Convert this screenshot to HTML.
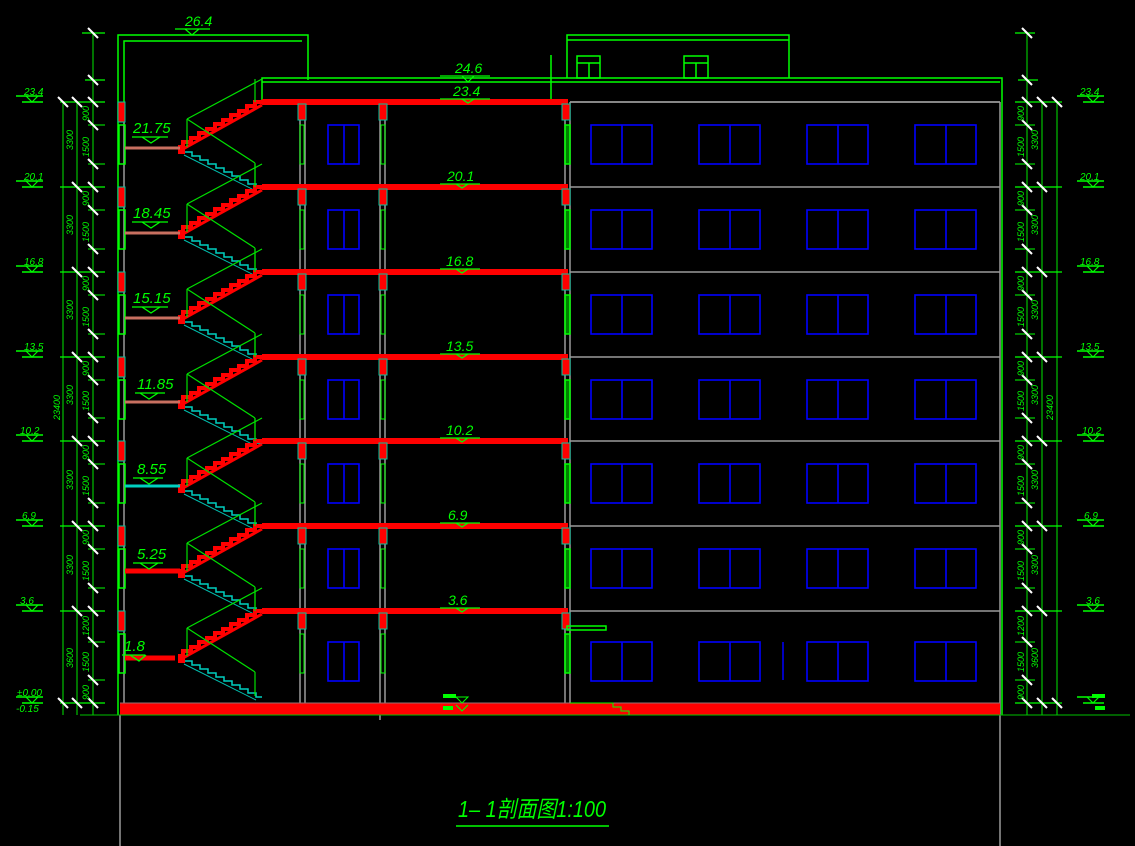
<!DOCTYPE html>
<html><head><meta charset="utf-8"><style>
html,body{margin:0;padding:0;background:#000;}
svg{display:block;}
text{font-family:"Liberation Sans","Noto Sans CJK SC",sans-serif;font-style:italic;fill:#00ff00;}
</style></head><body>
<svg width="1135" height="846" viewBox="0 0 1135 846" xmlns="http://www.w3.org/2000/svg">
<rect width="1135" height="846" fill="#000"/>
<defs>
<g id="flr">
  <line x1="570" y1="0" x2="1000" y2="0" stroke="#9a9a9a" stroke-width="1.5"/>
  <rect x="262" y="-3" width="306" height="6" fill="#ff0000"/>
  <rect x="298" y="2" width="8" height="16" fill="#ff0000" stroke="#00c8a0" stroke-width="1"/>
  <rect x="379" y="2" width="8" height="16" fill="#ff0000" stroke="#00c8a0" stroke-width="1"/>
  <rect x="562" y="2" width="8" height="16" fill="#ff0000" stroke="#00c8a0" stroke-width="1"/>
  <rect x="118" y="0" width="7" height="20" fill="#ff0000" stroke="#00c8a0" stroke-width="1"/>
  <rect x="119" y="23" width="6" height="39" fill="none" stroke="#00ff00" stroke-width="1.5"/>
  <rect x="565" y="23" width="5" height="39" fill="#00ff00" fill-opacity=".5" stroke="#00ff00" stroke-width="1.5"/>
  <rect x="300" y="23" width="4" height="39" fill="none" stroke="#00ff00" stroke-width="1"/>
  <rect x="381" y="23" width="4" height="39" fill="none" stroke="#00ff00" stroke-width="1"/>
</g>
<g id="win" fill="none" stroke="#0000ff" stroke-width="1.6">
  <rect x="328" y="0" width="31" height="39"/><line x1="344" y1="0" x2="344" y2="39"/>
  <rect x="591" y="0" width="61" height="39"/><line x1="622" y1="0" x2="622" y2="39"/>
  <rect x="699" y="0" width="61" height="39"/><line x1="730" y1="0" x2="730" y2="39"/>
  <rect x="807" y="0" width="61" height="39"/><line x1="838" y1="0" x2="838" y2="39"/>
  <rect x="915" y="0" width="61" height="39"/><line x1="946" y1="0" x2="946" y2="39"/>
</g>
<g id="st">
  <path d="M183,44 L183,40 L191,40 L191,36 L199,36 L199,31 L207,31 L207,27 L215,27 L215,22 L223,22 L223,18 L231,18 L231,13 L239,13 L239,9 L247,9 L247,4 L255,4 L255,0 L262,0" fill="none" stroke="#ff0000" stroke-width="4"/>
  <line x1="183" y1="47" x2="262" y2="3" stroke="#ff0000" stroke-width="3"/>
  <path d="M184,50 L192,50 L192,54 L200,54 L200,58 L208,58 L208,62 L216,62 L216,66 L224,66 L224,70 L232,70 L232,74 L240,74 L240,78 L248,78 L248,82 L256,82 L256,86 L262,86" fill="none" stroke="#00d0c0" stroke-width="1.5"/>
  <line x1="184" y1="53" x2="256" y2="89" stroke="#00c0b0" stroke-width="1"/>
  <rect x="178" y="43" width="7" height="9" fill="#ff0000"/>
  <g stroke="#00e000" stroke-width="1.2" fill="none">
    <line x1="187" y1="17" x2="187" y2="45"/>
    <line x1="187" y1="17" x2="262" y2="-23"/>
    <line x1="187" y1="17" x2="255" y2="61"/>
    <line x1="255" y1="61" x2="255" y2="85"/>
    <line x1="255" y1="-23" x2="255" y2="0"/>
  </g>
</g>
<g id="tk"><line x1="-5" y1="-5" x2="5" y2="5" stroke="#fff" stroke-width="2"/></g>
<g id="em"><line x1="0" y1="-6" x2="27" y2="-6" stroke="#00ff00" stroke-width="1.5"/><line x1="6" y1="0" x2="27" y2="0" stroke="#00ff00" stroke-width="1.5"/><path d="M10,-6 L16,0 L22,-6" fill="none" stroke="#00ff00" stroke-width="1.2"/></g>
</defs>

<g stroke="#00ff00" stroke-width="1.5" fill="none">
  <polyline points="118,715 118,35 308,35 308,80"/>
  <polyline points="124,102 124,41 302,41"/>
  <polyline points="262,102 262,78 1002,78 1002,715"/>
  <line x1="262" y1="82" x2="1000" y2="82"/>
  <polyline points="567,78 567,35 789,35 789,78"/>
  <line x1="567" y1="40" x2="789" y2="40"/>
  <rect x="577" y="56" width="23" height="22"/><line x1="577" y1="63" x2="600" y2="63"/><line x1="589" y1="63" x2="589" y2="78"/>
  <rect x="684" y="56" width="24" height="22"/><line x1="684" y1="63" x2="708" y2="63"/><line x1="696" y1="63" x2="696" y2="78"/>
  <line x1="551" y1="55" x2="551" y2="102"/>
</g>
<g stroke="#9a9a9a" stroke-width="1.5" fill="none">
  <line x1="570" y1="102" x2="1000" y2="102"/>
  <line x1="1000" y1="102" x2="1000" y2="846"/>
  <line x1="120" y1="715" x2="120" y2="846"/>
  <line x1="124" y1="102" x2="124" y2="715"/>
  <line x1="565" y1="102" x2="565" y2="715"/><line x1="570" y1="102" x2="570" y2="715"/>
  <line x1="300" y1="102" x2="300" y2="715"/><line x1="305" y1="102" x2="305" y2="715"/>
  <line x1="380" y1="102" x2="380" y2="720"/><line x1="385" y1="102" x2="385" y2="715"/>
</g>

<use href="#flr" y="102"/><use href="#flr" y="187"/><use href="#flr" y="272"/><use href="#flr" y="357"/>
<use href="#flr" y="441"/><use href="#flr" y="526"/><use href="#flr" y="611"/>
<use href="#win" y="125"/><use href="#win" y="210"/><use href="#win" y="295"/><use href="#win" y="380"/>
<use href="#win" y="464"/><use href="#win" y="549"/><use href="#win" y="642"/>
<rect x="765" y="640" width="40" height="45" fill="#000"/><line x1="783" y1="642" x2="783" y2="680" stroke="#0000ff" stroke-width="1.5"/>
<rect x="567" y="626" width="39" height="4" fill="none" stroke="#00ff00" stroke-width="1.5"/>

<use href="#st" y="102"/><use href="#st" y="187"/><use href="#st" y="272"/><use href="#st" y="357"/>
<use href="#st" y="441"/><use href="#st" y="526"/><use href="#st" y="611"/>
<g stroke="#c87060" stroke-width="3">
  <line x1="125" y1="148" x2="180" y2="148"/><line x1="125" y1="233" x2="180" y2="233"/>
  <line x1="125" y1="318" x2="180" y2="318"/><line x1="125" y1="402" x2="180" y2="402"/>
</g>
<line x1="125" y1="486" x2="180" y2="486" stroke="#00d0c0" stroke-width="3"/>
<line x1="125" y1="571" x2="180" y2="571" stroke="#ff0000" stroke-width="5"/>
<line x1="125" y1="658" x2="175" y2="658" stroke="#ff0000" stroke-width="5"/>

<rect x="120" y="703" width="880" height="12" fill="#ff0000"/>
<line x1="120" y1="703" x2="1000" y2="703" stroke="#9a7070" stroke-width="1"/>
<line x1="80" y1="715" x2="1130" y2="715" stroke="#00c000" stroke-width="1"/>
<polyline points="570,703 613,703 613,707 621,707 621,711 629,711 629,715" fill="none" stroke="#00ff00" stroke-width="1"/>
<rect x="443" y="694" width="13" height="4" fill="#00ff00"/><rect x="443" y="706" width="10" height="4" fill="#00ff00"/>
<path d="M456,697 L468,697 L462,703 Z M456,705 L462,711 L468,705" fill="none" stroke="#00ff00"/>

<g font-size="15">
<text x="133" y="133">21.75</text><text x="133" y="218">18.45</text><text x="133" y="303">15.15</text>
<text x="137" y="389">11.85</text><text x="137" y="474">8.55</text><text x="137" y="559">5.25</text><text x="124" y="651">1.8</text>
</g>
<g stroke="#00ff00" stroke-width="1.3" fill="none">
  <path d="M132,137 L168,137 M142,137 L151,143 L160,137"/>
  <path d="M132,222 L168,222 M142,222 L151,228 L160,222"/>
  <path d="M132,307 L168,307 M142,307 L151,313 L160,307"/>
  <path d="M135,393 L165,393 M140,393 L149,399 L158,393"/>
  <path d="M133,478 L163,478 M140,478 L149,484 L158,478"/>
  <path d="M133,563 L163,563 M140,563 L149,569 L158,563"/>
  <path d="M122,655 L145,655 M130,655 L139,661 L146,655"/>
</g>
<g font-size="14">
<text x="455" y="73">24.6</text><text x="453" y="96">23.4</text><text x="447" y="181">20.1</text>
<text x="446" y="266">16.8</text><text x="446" y="351">13.5</text><text x="446" y="435">10.2</text>
<text x="448" y="520">6.9</text><text x="448" y="605">3.6</text><text x="185" y="26">26.4</text>
</g>
<g stroke="#00ff00" stroke-width="1.2" fill="none">
  <path d="M440,76 L490,76 M462,76 L468,82 L474,76"/>
  <path d="M440,99 L490,99 M462,99 L468,103 L474,99"/>
  <path d="M440,184 L480,184 M456,184 L462,188 L468,184"/>
  <path d="M440,269 L480,269 M456,269 L462,273 L468,269"/>
  <path d="M440,354 L480,354 M456,354 L462,358 L468,354"/>
  <path d="M440,438 L480,438 M456,438 L462,442 L468,438"/>
  <path d="M440,523 L480,523 M456,523 L462,527 L468,523"/>
  <path d="M440,608 L480,608 M456,608 L462,612 L468,608"/>
  <path d="M175,29 L210,29 M185,29 L192,35 L199,29"/>
</g>

<g stroke="#00c000" stroke-width="1.2">
  <line x1="63" y1="102" x2="63" y2="715"/><line x1="77" y1="102" x2="77" y2="715"/><line x1="93" y1="33" x2="93" y2="715"/>
  <line x1="1027" y1="33" x2="1027" y2="715"/><line x1="1042" y1="102" x2="1042" y2="715"/><line x1="1057" y1="102" x2="1057" y2="715"/>
</g>
<g stroke="#00ff00" stroke-width="1.2">
  <line x1="82" y1="33" x2="105" y2="33"/><line x1="85" y1="80" x2="105" y2="80"/>
  <line x1="1015" y1="33" x2="1035" y2="33"/><line x1="1018" y1="80" x2="1038" y2="80"/>
  <line x1="60" y1="102" x2="105" y2="102"/><line x1="60" y1="187" x2="105" y2="187"/><line x1="60" y1="272" x2="105" y2="272"/>
  <line x1="60" y1="357" x2="105" y2="357"/><line x1="60" y1="441" x2="105" y2="441"/><line x1="60" y1="526" x2="105" y2="526"/>
  <line x1="60" y1="611" x2="105" y2="611"/><line x1="60" y1="703" x2="105" y2="703"/>
  <line x1="1015" y1="102" x2="1062" y2="102"/><line x1="1015" y1="187" x2="1062" y2="187"/><line x1="1015" y1="272" x2="1062" y2="272"/>
  <line x1="1015" y1="357" x2="1062" y2="357"/><line x1="1015" y1="441" x2="1062" y2="441"/><line x1="1015" y1="526" x2="1062" y2="526"/>
  <line x1="1015" y1="611" x2="1062" y2="611"/><line x1="1015" y1="703" x2="1062" y2="703"/>
</g>
<g stroke="#00ff00" stroke-width="1">
  <path d="M88,125H105M88,164H105M88,210H105M88,249H105M88,295H105M88,334H105M88,380H105M88,418H105M88,464H105M88,503H105M88,549H105M88,588H105M88,642H105M88,680H105"/>
  <path d="M1015,125H1035M1015,164H1035M1015,210H1035M1015,249H1035M1015,295H1035M1015,334H1035M1015,380H1035M1015,418H1035M1015,464H1035M1015,503H1035M1015,549H1035M1015,588H1035M1015,642H1035M1015,680H1035"/>
</g>
<g>
<use href="#tk" x="93" y="33"/><use href="#tk" x="93" y="80"/><use href="#tk" x="93" y="102"/>
<use href="#tk" x="63" y="102"/><use href="#tk" x="77" y="102"/>
<use href="#tk" x="93" y="125"/><use href="#tk" x="93" y="164"/><use href="#tk" x="93" y="187"/><use href="#tk" x="77" y="187"/>
<use href="#tk" x="93" y="210"/><use href="#tk" x="93" y="249"/><use href="#tk" x="93" y="272"/><use href="#tk" x="77" y="272"/>
<use href="#tk" x="93" y="295"/><use href="#tk" x="93" y="334"/><use href="#tk" x="93" y="357"/><use href="#tk" x="77" y="357"/>
<use href="#tk" x="93" y="380"/><use href="#tk" x="93" y="418"/><use href="#tk" x="93" y="441"/><use href="#tk" x="77" y="441"/>
<use href="#tk" x="93" y="464"/><use href="#tk" x="93" y="503"/><use href="#tk" x="93" y="526"/><use href="#tk" x="77" y="526"/>
<use href="#tk" x="93" y="549"/><use href="#tk" x="93" y="588"/><use href="#tk" x="93" y="611"/><use href="#tk" x="77" y="611"/>
<use href="#tk" x="93" y="642"/><use href="#tk" x="93" y="680"/><use href="#tk" x="93" y="703"/><use href="#tk" x="77" y="703"/><use href="#tk" x="63" y="703"/>
<use href="#tk" x="1027" y="33"/><use href="#tk" x="1027" y="80"/><use href="#tk" x="1027" y="102"/><use href="#tk" x="1042" y="102"/><use href="#tk" x="1057" y="102"/>
<use href="#tk" x="1027" y="125"/><use href="#tk" x="1027" y="164"/><use href="#tk" x="1027" y="187"/><use href="#tk" x="1042" y="187"/>
<use href="#tk" x="1027" y="210"/><use href="#tk" x="1027" y="249"/><use href="#tk" x="1027" y="272"/><use href="#tk" x="1042" y="272"/>
<use href="#tk" x="1027" y="295"/><use href="#tk" x="1027" y="334"/><use href="#tk" x="1027" y="357"/><use href="#tk" x="1042" y="357"/>
<use href="#tk" x="1027" y="380"/><use href="#tk" x="1027" y="418"/><use href="#tk" x="1027" y="441"/><use href="#tk" x="1042" y="441"/>
<use href="#tk" x="1027" y="464"/><use href="#tk" x="1027" y="503"/><use href="#tk" x="1027" y="526"/><use href="#tk" x="1042" y="526"/>
<use href="#tk" x="1027" y="549"/><use href="#tk" x="1027" y="588"/><use href="#tk" x="1027" y="611"/><use href="#tk" x="1042" y="611"/>
<use href="#tk" x="1027" y="642"/><use href="#tk" x="1027" y="680"/><use href="#tk" x="1027" y="703"/><use href="#tk" x="1042" y="703"/><use href="#tk" x="1057" y="703"/>
</g>
<g font-size="9" fill="#00c000">
<text transform="translate(73,150) rotate(-90)">3300</text><text transform="translate(73,235) rotate(-90)">3300</text>
<text transform="translate(73,320) rotate(-90)">3300</text><text transform="translate(73,405) rotate(-90)">3300</text>
<text transform="translate(73,490) rotate(-90)">3300</text><text transform="translate(73,575) rotate(-90)">3300</text>
<text transform="translate(73,668) rotate(-90)">3600</text><text transform="translate(60,420) rotate(-90)">23400</text>
<text transform="translate(89,157) rotate(-90)">1500</text><text transform="translate(89,242) rotate(-90)">1500</text>
<text transform="translate(89,327) rotate(-90)">1500</text><text transform="translate(89,411) rotate(-90)">1500</text>
<text transform="translate(89,496) rotate(-90)">1500</text><text transform="translate(89,581) rotate(-90)">1500</text>
<text transform="translate(89,672) rotate(-90)">1500</text>
<text transform="translate(89,121) rotate(-90)">900</text><text transform="translate(89,206) rotate(-90)">900</text>
<text transform="translate(89,291) rotate(-90)">900</text><text transform="translate(89,376) rotate(-90)">900</text>
<text transform="translate(89,460) rotate(-90)">900</text><text transform="translate(89,545) rotate(-90)">900</text>
<text transform="translate(89,636) rotate(-90)">1200</text><text transform="translate(89,700) rotate(-90)">900</text>
<text transform="translate(1038,150) rotate(-90)">3300</text><text transform="translate(1038,235) rotate(-90)">3300</text>
<text transform="translate(1038,320) rotate(-90)">3300</text><text transform="translate(1038,405) rotate(-90)">3300</text>
<text transform="translate(1038,490) rotate(-90)">3300</text><text transform="translate(1038,575) rotate(-90)">3300</text>
<text transform="translate(1038,668) rotate(-90)">3600</text><text transform="translate(1053,420) rotate(-90)">23400</text>
<text transform="translate(1024,157) rotate(-90)">1500</text><text transform="translate(1024,242) rotate(-90)">1500</text>
<text transform="translate(1024,327) rotate(-90)">1500</text><text transform="translate(1024,411) rotate(-90)">1500</text>
<text transform="translate(1024,496) rotate(-90)">1500</text><text transform="translate(1024,581) rotate(-90)">1500</text>
<text transform="translate(1024,672) rotate(-90)">1500</text>
<text transform="translate(1024,121) rotate(-90)">900</text><text transform="translate(1024,206) rotate(-90)">900</text>
<text transform="translate(1024,291) rotate(-90)">900</text><text transform="translate(1024,376) rotate(-90)">900</text>
<text transform="translate(1024,460) rotate(-90)">900</text><text transform="translate(1024,545) rotate(-90)">900</text>
<text transform="translate(1024,636) rotate(-90)">1200</text><text transform="translate(1024,700) rotate(-90)">900</text>
</g>
<use href="#em" x="16" y="102"/><use href="#em" x="16" y="187"/><use href="#em" x="16" y="272"/><use href="#em" x="16" y="357"/>
<use href="#em" x="16" y="441"/><use href="#em" x="16" y="526"/><use href="#em" x="16" y="611"/><use href="#em" x="16" y="703"/>
<use href="#em" x="1077" y="102"/><use href="#em" x="1077" y="187"/><use href="#em" x="1077" y="272"/><use href="#em" x="1077" y="357"/>
<use href="#em" x="1077" y="441"/><use href="#em" x="1077" y="526"/><use href="#em" x="1077" y="611"/><use href="#em" x="1077" y="703"/>
<g font-size="10">
<text x="24" y="95">23.4</text><text x="24" y="180">20.1</text><text x="24" y="265">16.8</text><text x="24" y="350">13.5</text>
<text x="20" y="434">10.2</text><text x="22" y="519">6.9</text><text x="20" y="604">3.6</text><text x="17" y="696">±0.00</text><text x="16" y="712">-0.15</text>
<text x="1080" y="95">23.4</text><text x="1080" y="180">20.1</text><text x="1080" y="265">16.8</text><text x="1080" y="350">13.5</text>
<text x="1082" y="434">10.2</text><text x="1084" y="519">6.9</text><text x="1086" y="604">3.6</text>
</g>
<rect x="1092" y="694" width="13" height="4" fill="#00ff00"/><rect x="1095" y="706" width="10" height="4" fill="#00ff00"/>

<text x="458" y="817" font-size="23" textLength="148" lengthAdjust="spacingAndGlyphs">1– 1剖面图1:100</text>
<line x1="456" y1="826" x2="609" y2="826" stroke="#00ff00" stroke-width="1.5"/>
</svg>
</body></html>
